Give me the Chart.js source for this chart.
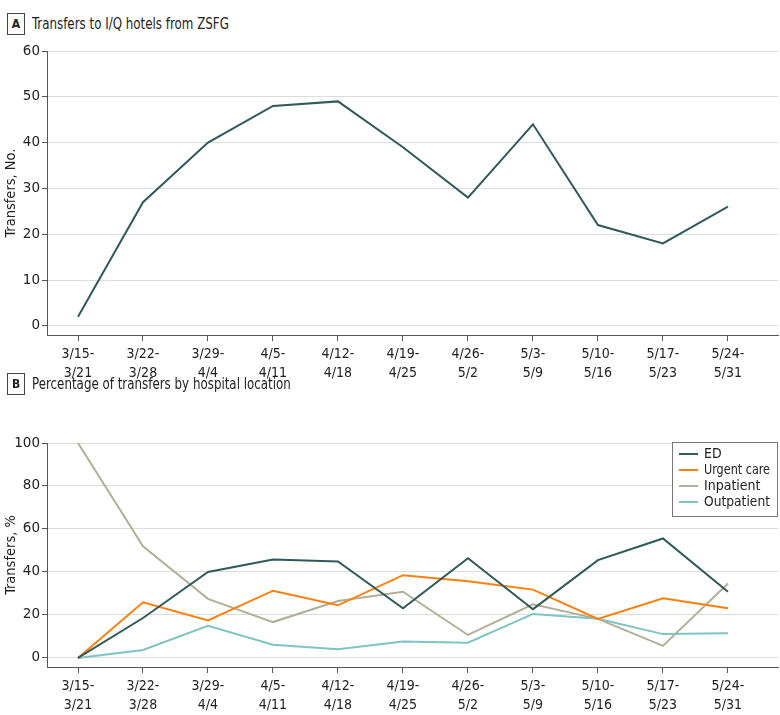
<!DOCTYPE html>
<html>
<head>
<meta charset="utf-8">
<script src="https://cdn.jsdelivr.net/npm/chart.js@4.4.0/dist/chart.umd.min.js"></script>
<style>
  html, body { margin:0; padding:0; background:#fff; width:780px; height:715px; overflow:hidden; }
  .panel-title { position:absolute; left:7px; font-family:"DejaVu Sans Condensed",sans-serif; font-size:15px; color:#222; display:flex; align-items:center; z-index:2; }
  .panel-title .txt { display:inline-block; transform:scaleX(0.88); transform-origin:left center; white-space:nowrap; }
  .panel-title .tag { display:inline-block; width:16px; height:20px; border:1px solid #444; text-align:center; line-height:20px; font-weight:bold; font-family:"DejaVu Sans Condensed",sans-serif; font-size:12px; margin-right:7px; }
  .wrap { position:absolute; left:0; width:780px; }
</style>
</head>
<body>
<div class="panel-title" style="top:13px;"><span class="tag">A</span><span class="txt">Transfers to I/Q hotels from ZSFG</span></div>
<div class="wrap" style="top:36px;height:352px;"><canvas id="cA"></canvas></div>
<div class="panel-title" style="top:373px;"><span class="tag">B</span><span class="txt">Percentage of transfers by hospital location</span></div>
<div class="wrap" style="top:428px;height:287px;"><canvas id="cB"></canvas></div>
<script>
const weeks = [["3/15-","3/21"],["3/22-","3/28"],["3/29-","4/4"],["4/5-","4/11"],["4/12-","4/18"],["4/19-","4/25"],["4/26-","5/2"],["5/3-","5/9"],["5/10-","5/16"],["5/17-","5/23"],["5/24-","5/31"]];
const transfers = [2, 27, 40, 48, 49, 39, 28, 44, 22, 18, 26];
const edPct = [0, 18.6, 40.0, 45.8, 44.9, 23.1, 46.4, 22.7, 45.5, 55.6, 30.8];
const urgentPct = [0, 25.9, 17.5, 31.3, 24.5, 38.5, 35.7, 31.8, 18.2, 27.8, 23.1];
const inpatientPct = [100, 51.9, 27.5, 16.7, 26.5, 30.8, 10.7, 25.0, 18.2, 5.6, 34.6];
const outpatientPct = [0, 3.7, 15.0, 6.2, 4.1, 7.7, 7.1, 20.5, 18.2, 11.1, 11.5];
const yTicksA = [0, 10, 20, 30, 40, 50, 60];
const yTicksB = [0, 20, 40, 60, 80, 100];

const COL_ED = '#2f5a59', COL_UC = '#ff7f0e', COL_IP = '#b1af96', COL_OP = '#7dc4c3';
const AXIS = '#555555', GRID = '#dcdcdc';
const tickFontX = { family: '"DejaVu Sans Condensed",sans-serif', size: 14, lineHeight: 1.35 };
const tickFontY = { family: '"DejaVu Sans",sans-serif', size: 13.5 };

function pts(arr) { return arr.map((v, i) => ({ x: i, y: v })); }

function xScale(height) {
  return {
    type: 'linear', min: -0.477, max: 10.77,
    afterBuildTicks: ax => { ax.ticks = weeks.map((w, i) => ({ value: i })); },
    afterFit: ax => { ax.height = height; },
    ticks: { autoSkip: false, maxRotation: 0, color: '#222', font: tickFontX, padding: 4,
      callback: v => weeks[v] || '' },
    grid: { drawOnChartArea: false, drawTicks: true, tickLength: 6, tickColor: AXIS },
    border: { color: AXIS, width: 1 }
  };
}
function yScale(min, max, ticks, title) {
  return {
    type: 'linear', min: min, max: max,
    afterBuildTicks: ax => { ax.ticks = ticks.map(v => ({ value: v })); },
    afterFit: ax => { ax.width = 47; },
    ticks: { color: '#222', font: tickFontY, padding: 2 },
    grid: { color: GRID, lineWidth: 1, tickLength: 5, tickColor: AXIS },
    border: { color: AXIS, width: 1 },
    title: { display: true, text: title, color: '#222', font: { family: '"DejaVu Sans Condensed",sans-serif', size: 14.5 }, padding: { top: 3, bottom: 0 } }
  };
}

new Chart(document.getElementById('cA'), {
  type: 'line',
  data: { datasets: [{ label: 'Transfers', data: pts(transfers), borderColor: COL_ED, borderWidth: 2, pointRadius: 0, tension: 0, fill: false }] },
  options: {
    responsive: true, maintainAspectRatio: false, animation: false,
    layout: { padding: { top: 15, right: 2, left: 0, bottom: 0 } },
    plugins: { legend: { display: false }, tooltip: { enabled: false } },
    scales: { x: xScale(53), y: yScale(-2, 60, yTicksA, 'Transfers, No.') }
  }
});

const boxLegend = {
  id: 'boxLegend',
  afterDraw(chart) {
    const ctx = chart.ctx;
    const x0 = 672, y0 = 14, w = 105, h = 74;
    ctx.save();
    ctx.fillStyle = '#fff';
    ctx.fillRect(x0, y0, w, h);
    ctx.strokeStyle = '#777';
    ctx.lineWidth = 1;
    ctx.strokeRect(x0 + 0.5, y0 + 0.5, w, h);
    ctx.font = '14px "DejaVu Sans Condensed",sans-serif';
    ctx.textBaseline = 'middle';
    chart.data.datasets.forEach((ds, i) => {
      const y = y0 + 12 + i * 16;
      ctx.strokeStyle = ds.borderColor;
      ctx.lineWidth = 2;
      ctx.beginPath(); ctx.moveTo(x0 + 7, y); ctx.lineTo(x0 + 26, y); ctx.stroke();
      ctx.fillStyle = '#222';
      const tw = ctx.measureText(ds.label).width;
      const maxW = 66;
      ctx.save();
      ctx.translate(x0 + 32, y);
      if (tw > maxW) ctx.scale(maxW / tw, 1);
      ctx.fillText(ds.label, 0, 0);
      ctx.restore();
    });
    ctx.restore();
  }
};

new Chart(document.getElementById('cB'), {
  type: 'line',
  data: { datasets: [
    { label: 'ED', data: pts(edPct), borderColor: COL_ED, borderWidth: 2, pointRadius: 0, tension: 0, fill: false },
    { label: 'Urgent care', data: pts(urgentPct), borderColor: COL_UC, borderWidth: 2, pointRadius: 0, tension: 0, fill: false },
    { label: 'Inpatient', data: pts(inpatientPct), borderColor: COL_IP, borderWidth: 2, pointRadius: 0, tension: 0, fill: false },
    { label: 'Outpatient', data: pts(outpatientPct), borderColor: COL_OP, borderWidth: 2, pointRadius: 0, tension: 0, fill: false }
  ] },
  options: {
    responsive: true, maintainAspectRatio: false, animation: false,
    layout: { padding: { top: 15, right: 2, left: 0, bottom: 0 } },
    plugins: { legend: { display: false }, tooltip: { enabled: false } },
    scales: { x: xScale(48), y: yScale(-4.2, 100, yTicksB, 'Transfers, %') }
  },
  plugins: [boxLegend]
});
</script>
</body>
</html>
